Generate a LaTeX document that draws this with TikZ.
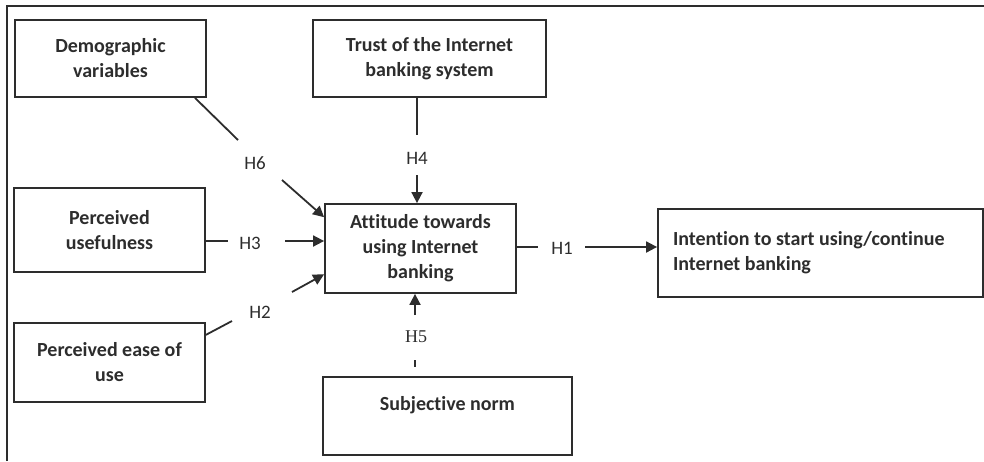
\documentclass[tikz,border=0pt]{standalone}
\usepackage{fontspec}
\setmainfont{Carlito}[Ligatures=NoCommon]
\newfontfamily\serifh{Liberation Serif}
\usetikzlibrary{
  arrows.meta,
  calc
}
\definecolor{ink}{RGB}{45,45,45}

\begin{document}
\begin{tikzpicture}[x=1pt, y=-1pt,
  every node/.style={text=ink},
  construct/.style={draw=ink, line width=1.8pt, inner sep=0pt, align=center,
                    font=\fontsize{20}{25}\selectfont\bfseries},
  hyp/.style={inner sep=0pt, font=\fontsize{19}{23}\selectfont},
  link/.style={draw=ink, line width=1.8pt},
  arr/.style={link, -{Triangle[length=11pt,width=11pt]}},
]
\useasboundingbox (0,0) rectangle (984,461);

% frame (cut off at right and bottom)
\draw[link] (7,461) -- (7,6) -- (984,6);

\node[construct, minimum width=191, minimum height=77] (demo) at (110.5,58.5) {Demographic\\variables};
\node[construct, minimum width=233, minimum height=77] (trust) at (429.5,58.5) {Trust of the Internet\\banking system};
\node[construct, minimum width=191, minimum height=84] (useful) at (109.5,230) {Perceived\\usefulness};
\node[construct, minimum width=191, minimum height=79] (ease) at (109.5,362.5) {Perceived ease of\\use};
\node[construct, minimum width=191, minimum height=89] (att) at (420.5,248.5) {Attitude towards\\using Internet\\banking};
\node[construct, minimum width=249, minimum height=78] (subj) at (447.5,416) {Subjective norm\\\mbox{}};
\node[construct, text width=295, inner xsep=15, minimum height=88, align=flush left] (intent) at (820.5,253)
  {Intention to start using/continue\\Internet banking};

% hypothesis labels
\node[hyp] (lh6) at (255,163) {H6};
\node[hyp] (lh4) at (417,158) {H4};
\node[hyp] (lh3) at (250,243) {H3};
\node[hyp] (lh2) at (260,312) {H2};
\node[hyp] (lh1) at (562,248) {H1};
\node[hyp, font=\fontsize{18}{22}\selectfont\serifh] (lh5) at (416,337) {H5};

% segment ends
\coordinate (h6a) at (238,140);
\coordinate (h6b) at (282,180);
\coordinate (h4a) at (417,135);
\coordinate (h4b) at (417,175);
\coordinate (h3a) at (228,241);
\coordinate (h3b) at (285,241);
\coordinate (h2a) at (232,321);
\coordinate (h2b) at (292,292);
\coordinate (h1a) at (538,247);
\coordinate (h1b) at (585,247);
\coordinate (h5a) at (415,315);
\coordinate (h5b) at (415,360);
\coordinate (h5c) at (415,367);

\draw[link] (demo.-25) -- (h6a);
\draw[arr] (h6b) -- (att.162);
\draw[link] (trust.south -| h4a) -- (h4a);
\draw[arr] (h4b) -- (h4b |- att.north);
\draw[link] (useful.east |- h3a) -- (h3a);
\draw[arr] (h3b) -- (h3b -| att.west);
\draw[link] (ease.16.6) -- (h2a);
\draw[arr] (h2b) -- (att.195.5);
\draw[link] (att.east |- h1a) -- (h1a);
\draw[arr] (h1b) -- (h1b -| intent.west);
\draw[arr] (h5a) -- (h5a |- att.south);
\draw[link] (h5b) -- (h5c);

\end{tikzpicture}
\end{document}
